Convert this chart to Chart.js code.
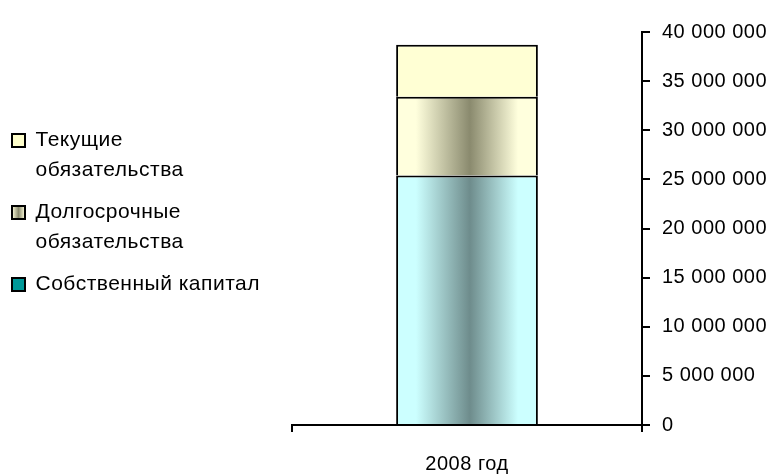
<!DOCTYPE html>
<html>
<head>
<meta charset="utf-8">
<script src="https://cdn.jsdelivr.net/npm/chart.js@4.4.1/dist/chart.umd.min.js"></script>
<style>
    html, body { margin: 0; padding: 0; background: #fff; }
    #wrap { width: 775px; height: 475px; }
</style>
</head>
<body>
<div id="wrap"><canvas id="chart"></canvas></div>
<script>
// Data
const categories = ['2008 год'];
const equity = [25400000];        // Собственный капитал
const longTermDebt = [8000000];   // Долгосрочные обязательства
const currentDebt = [5300000];    // Текущие обязательства
const seriesNames = ['Собственный капитал', 'Долгосрочные обязательства', 'Текущие обязательства'];
const legendLines = [['Собственный капитал'], ['Долгосрочные', 'обязательства'], ['Текущие', 'обязательства']];
const yMin = 0;
const yMax = 40000000;
const yStep = 5000000;

// Style
const FONT = "'Liberation Sans', Arial, sans-serif";
const BAR_PCT = 0.405;

// Horizontal "cylinder" gradient across the bar
function barGradient(edge, middle) {
    return (context) => {
        const chart = context.chart;
        if (!chart.chartArea || !chart.scales.x) return edge;
        const xScale = chart.scales.x;
        const w = (xScale.width / categories.length) * BAR_PCT;
        const cx = xScale.getPixelForValue(context.dataIndex || 0);
        const g = chart.ctx.createLinearGradient(cx - w / 2, 0, cx + w / 2, 0);
        g.addColorStop(0, edge);
        g.addColorStop(0.14, edge);
        g.addColorStop(0.52, middle);
        g.addColorStop(0.86, edge);
        g.addColorStop(1, edge);
        return g;
    };
}

// Format 40000000 -> "40 000 000"
function formatNumber(v) {
    return String(v).replace(/\B(?=(\d{3})+(?!\d))/g, ' ');
}

// Slightly wide letter spacing like the original bitmap font
const letterSpacing = {
    id: 'letterSpacing',
    beforeLayout(chart) { chart.ctx.letterSpacing = '0.5px'; },
    beforeDraw(chart) { chart.ctx.letterSpacing = '0.5px'; }
};

// Fixed legend column on the left
const legendPlace = {
    id: 'legendPlace',
    beforeLayout(chart) {
        const lg = chart.legend;
        if (lg && !lg._fixedWidth) {
            const fit = lg.fit;
            lg.fit = function () {
                fit.call(this);
                this.width = 292;
            };
            lg._fixedWidth = true;
        }
    },
    afterLayout(chart) {
        if (chart.legend) chart.legend.top = 118;
    }
};

function setupChart() {
    const ctx = document.getElementById('chart');
    new Chart(ctx, {
        type: 'bar',
        data: {
            labels: categories,
            datasets: [
                {
                    label: seriesNames[0],
                    data: equity,
                    backgroundColor: barGradient('#ccffff', '#6e8c8c')
                },
                {
                    label: seriesNames[1],
                    data: longTermDebt,
                    backgroundColor: barGradient('#ffffdd', '#8a8a6e')
                },
                {
                    label: seriesNames[2],
                    data: currentDebt,
                    backgroundColor: '#ffffd4'
                }
            ].map(ds => Object.assign(ds, {
                borderColor: '#000',
                borderWidth: 2,
                barPercentage: BAR_PCT,
                categoryPercentage: 1.0
            }))
        },
        options: {
            responsive: true,
            maintainAspectRatio: false,
            animation: false,
            layout: {
                padding: { top: 32, right: 0, bottom: 0, left: 0 }
            },
            plugins: {
                tooltip: { enabled: false },
                legend: {
                    display: true,
                    position: 'left',
                    align: 'start',
                    reverse: true,
                    labels: {
                        color: '#000',
                        boxWidth: 13,
                        boxHeight: 13,
                        padding: 12,
                        font: { family: FONT, size: 21, lineHeight: '30px' },
                        generateLabels(chart) {
                            const c = chart.ctx;
                            const stripe = c.createLinearGradient(12, 0, 25, 0);
                            stripe.addColorStop(0, '#ffffdd');
                            stripe.addColorStop(0.5, '#8a8a6e');
                            stripe.addColorStop(1, '#ffffdd');
                            const fills = ['#009999', stripe, '#ffffcc'];
                            return chart.data.datasets.map((ds, i) => ({
                                text: legendLines[i],
                                fillStyle: fills[i],
                                strokeStyle: '#000',
                                lineWidth: 2,
                                hidden: false,
                                datasetIndex: i
                            }));
                        }
                    }
                }
            },
            scales: {
                x: {
                    stacked: true,
                    grid: {
                        offset: true,
                        drawOnChartArea: false,
                        drawTicks: true,
                        tickLength: 7,
                        color: '#000',
                        lineWidth: 2
                    },
                    border: { display: true, color: '#000', width: 2 },
                    ticks: {
                        color: '#000',
                        padding: 20,
                        font: { family: FONT, size: 20 }
                    },
                    afterFit(scale) { scale.height = 50; }
                },
                y: {
                    stacked: true,
                    position: 'right',
                    min: yMin,
                    max: yMax,
                    grid: {
                        drawOnChartArea: false,
                        drawTicks: true,
                        tickLength: 8,
                        color: '#000',
                        lineWidth: 2
                    },
                    border: { display: true, color: '#000', width: 2 },
                    ticks: {
                        stepSize: yStep,
                        color: '#000',
                        padding: 12,
                        font: { family: FONT, size: 20 },
                        callback: (v) => formatNumber(v)
                    },
                    afterFit(scale) { scale.width = 133; }
                }
            }
        },
        plugins: [letterSpacing, legendPlace]
    });
}

setupChart();
</script>
</body>
</html>
